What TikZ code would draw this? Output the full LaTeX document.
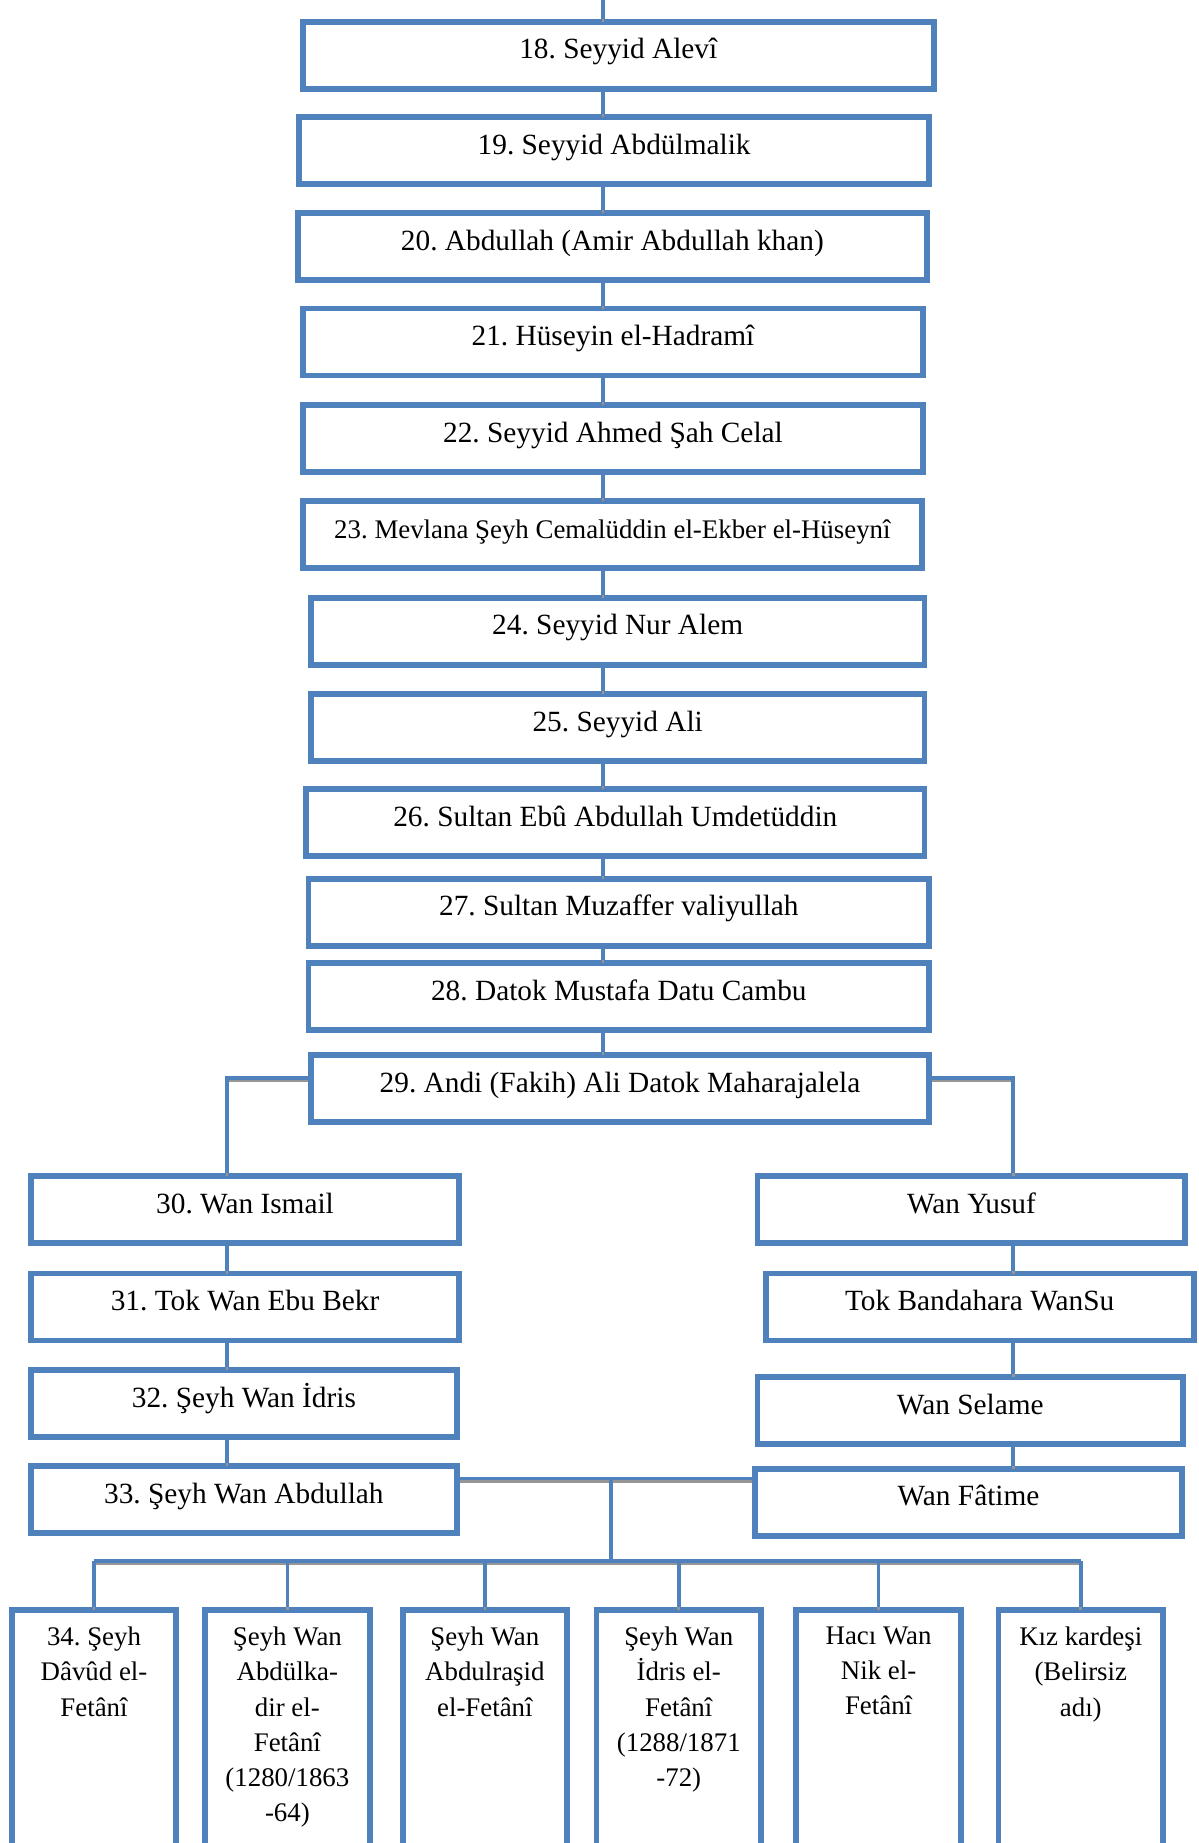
\documentclass[tikz,border=0pt]{standalone}
\usepackage{fontspec}
\setmainfont{Liberation Serif}
\frenchspacing
\usetikzlibrary{positioning,calc}
\definecolor{boxblue}{RGB}{79,129,189}
\definecolor{shade}{RGB}{150,150,150}
\tikzset{
  box/.style={draw=boxblue,line width=1mm,fill=white,minimum height=11.4mm,
    inner sep=0pt,align=center,font=\fontsize{14.2}{17}\selectfont,
    text height=0.7em,text depth=0.35em},
  kid/.style={draw=boxblue,line width=1mm,fill=white,minimum width=28mm,
    minimum height=45.6mm,inner sep=0pt},
  kidtext/.style={anchor=north,align=center,inner sep=0pt,
    font=\fontsize{13}{17}\selectfont},
  link/.style={draw=boxblue,line width=0.6mm,
    preaction={draw=shade,line width=0.45mm,transform canvas={yshift=-0.5mm}}},
}
\begin{document}
\begin{tikzpicture}[x=0.2mm,y=-0.2mm]
  \clip (0,0) rectangle (1020,1568);
  % main line
  \node[box,minimum width=107.4mm] (b18) at (526,47) {18. Seyyid Alevî};
  \node[box,minimum width=107.2mm] (b19) at (522.5,128) {19. Seyyid Abdülmalik};
  \node[box,minimum width=107mm] (b20) at (521,210) {20. Abdullah (Amir Abdullah khan)};
  \node[box,minimum width=105.6mm] (b21) at (521.5,291) {21. Hüseyin el-Hadramî};
  \node[box,minimum width=105.6mm] (b22) at (521.5,373) {22. Seyyid Ahmed Şah Celal};
  \node[box,minimum width=105.4mm,font=\fontsize{13}{16}\selectfont] (b23) at (521,455) {23. Mevlana Şeyh Cemalüddin el-Ekber el-Hüseynî};
  \node[box,minimum width=104.4mm] (b24) at (525.5,537) {24. Seyyid Nur Alem};
  \node[box,minimum width=104.4mm] (b25) at (525.5,619) {25. Seyyid Ali};
  \node[box,minimum width=105.2mm] (b26) at (523.5,700) {26. Sultan Ebû Abdullah Umdetüddin};
  \node[box,minimum width=105.6mm] (b27) at (526.5,776) {27. Sultan Muzaffer valiyullah};
  \node[box,minimum width=105.6mm] (b28) at (526.5,848) {28. Datok Mustafa Datu Cambu};
  \node[box,minimum width=105.2mm] (b29) at (527.5,926) {29. Andi (Fakih) Ali Datok Maharajalela};
  % two branches
  \node[box,minimum width=72.8mm] (b30) at (208.5,1029) {30. Wan Ismail};
  \node[box,minimum width=72.8mm] (b31) at (208.5,1112) {31. Tok Wan Ebu Bekr};
  \node[box,minimum width=72.4mm] (b32) at (207.5,1194) {32. Şeyh Wan İdris};
  \node[box,minimum width=72.4mm] (b33) at (207.5,1276) {33. Şeyh Wan Abdullah};
  \node[box,minimum width=72.8mm] (y1) at (826.5,1029) {Wan Yusuf};
  \node[box,minimum width=72.8mm] (y2) at (833.5,1112) {Tok Bandahara WanSu};
  \node[box,minimum width=72.4mm] (y3) at (825.5,1200) {Wan Selame};
  \node[box,minimum width=72.6mm] (y4) at (824,1278) {Wan Fâtime};
  % children
  \node[kid] (k1) at (80,1483.5) {};
  \node[kid] (k2) at (244.5,1483.5) {};
  \node[kid] (k3) at (412.5,1483.5) {};
  \node[kid] (k4) at (577.5,1483.5) {};
  \node[kid] (k5) at (747.5,1483.5) {};
  \node[kid] (k6) at (919.5,1483.5) {};
  \node[kidtext] (t1) at ([yshift=-3.4mm]k1.north) {34. Şeyh\\Dâvûd el-\\Fetânî};
  \node[kidtext] (t2) at ([yshift=-3.4mm]k2.north) {Şeyh Wan\\Abdülka-\\dir el-\\Fetânî\\(1280/1863\\-64)};
  \node[kidtext] (t3) at ([yshift=-3.4mm]k3.north) {Şeyh Wan\\Abdulraşid\\el-Fetânî};
  \node[kidtext] (t4) at ([yshift=-3.4mm]k4.north) {Şeyh Wan\\İdris el-\\Fetânî\\(1288/1871\\-72)};
  \node[kidtext] (t5) at ([yshift=-3.4mm]k5.north) {Hacı Wan\\Nik el-\\Fetânî};
  \node[kidtext] (t6) at ([yshift=-3.4mm]k6.north) {Kız kardeşi\\(Belirsiz\\adı)};
  % connectors
  \coordinate (top) at (513,0);
  \coordinate (lcol) at (193,917);
  \coordinate (rcol) at (862,917);
  \coordinate (wed) at (520,1258);
  \coordinate (kids) at (520,1328);
  \draw[link] (top) -- (b18.north -| top);
  \foreach \a/\b in {18/19,19/20,20/21,21/22,22/23,23/24,24/25,25/26,26/27,27/28,28/29}
    \draw[link] (b\a.south -| top) -- (b\b.north -| top);
  \draw[link] (b29.west |- lcol) -- (lcol) -- (b30.north -| lcol);
  \draw[link] (b29.east |- rcol) -- (rcol) -- (y1.north -| rcol);
  \foreach \a/\b in {30/31,31/32,32/33}
    \draw[link] (b\a.south -| lcol) -- (b\b.north -| lcol);
  \foreach \a/\b in {1/2,2/3,3/4}
    \draw[link] (y\a.south -| rcol) -- (y\b.north -| rcol);
  \draw[link] (b33.east |- wed) -- (y4.west |- wed);
  \draw[link] (wed) -- (kids);
  \draw[link] (k1.north |- kids) -- (k6.north |- kids);
  \foreach \i in {1,...,6}
    \draw[link] (k\i.north |- kids) -- (k\i.north);
\end{tikzpicture}
\end{document}
